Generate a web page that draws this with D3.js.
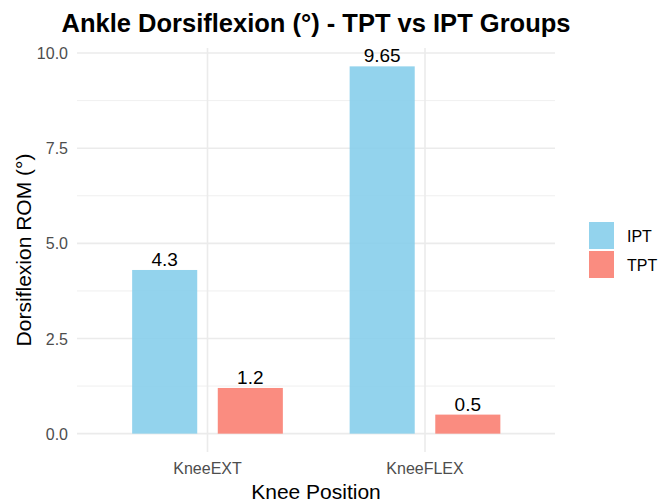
<!DOCTYPE html>
<html>
<head>
<meta charset="utf-8">
<script src="https://cdn.jsdelivr.net/npm/d3@7"></script>
<style>
  body { margin: 0; background: #fff; }
  svg { font-family: "Liberation Sans", Arial, sans-serif; }
</style>
</head>
<body>
<svg id="chart"></svg>
<script>
// data
var positions = ["KneeEXT", "KneeFLEX"]
var groups = ["IPT", "TPT"]
var iptValues = [4.3, 9.65]
var tptValues = [1.2, 0.5]
var yTicks = [0, 2.5, 5, 7.5, 10]
var yMinor = [1.25, 3.75, 6.25, 8.75]

var colors = { IPT: "#87CEEB", TPT: "#FA8072" }

var rows = []
positions.forEach(function (p, i) {
    rows.push({ pos: p, group: "IPT", value: iptValues[i] })
    rows.push({ pos: p, group: "TPT", value: tptValues[i] })
})

var dimensions = {
    width: 659,
    height: 502,
    margin: { top: 48, bottom: 50, left: 77, right: 104 }
}

var svg = d3.select("#chart")
    .attr("width", dimensions.width)
    .attr("height", dimensions.height)

var panelBottom = dimensions.height - dimensions.margin.bottom
var panelRight = dimensions.width - dimensions.margin.right

var xScale = d3.scaleBand()
    .domain(positions)
    .range([dimensions.margin.left, panelRight + 0.5])
    .paddingInner(0)
    .paddingOuter(0.1)

var groupScale = d3.scaleBand()
    .domain(groups)
    .range([0, xScale.bandwidth()])
    .paddingInner(0.24)
    .paddingOuter(0.39)

// 5% expansion around [0, 9.65]
var yScale = d3.scaleLinear()
    .domain([-0.4825, 10.1325])
    .range([panelBottom, dimensions.margin.top])

// grid
var grid = svg.append("g")
grid.selectAll(".minor")
    .data(yMinor)
    .enter()
    .append("line")
    .attr("x1", dimensions.margin.left)
    .attr("x2", panelRight)
    .attr("y1", d => yScale(d))
    .attr("y2", d => yScale(d))
    .attr("stroke", "#ebebeb")
    .attr("stroke-width", 0.8)

grid.selectAll(".major")
    .data(yTicks)
    .enter()
    .append("line")
    .attr("x1", dimensions.margin.left)
    .attr("x2", panelRight)
    .attr("y1", d => yScale(d))
    .attr("y2", d => yScale(d))
    .attr("stroke", "#ebebeb")
    .attr("stroke-width", 1.6)

grid.selectAll(".vmajor")
    .data(positions)
    .enter()
    .append("line")
    .attr("x1", d => xScale(d) + xScale.bandwidth() / 2)
    .attr("x2", d => xScale(d) + xScale.bandwidth() / 2)
    .attr("y1", dimensions.margin.top)
    .attr("y2", panelBottom)
    .attr("stroke", "#ebebeb")
    .attr("stroke-width", 1.6)

// bars
svg.append("g")
    .selectAll("rect")
    .data(rows)
    .enter()
    .append("rect")
    .attr("x", d => xScale(d.pos) + groupScale(d.group))
    .attr("y", d => yScale(d.value))
    .attr("width", groupScale.bandwidth())
    .attr("height", d => yScale(0) - yScale(d.value))
    .attr("fill", d => colors[d.group])
    .attr("fill-opacity", 0.9)

// value labels
svg.append("g")
    .selectAll("text")
    .data(rows)
    .enter()
    .append("text")
    .attr("x", d => xScale(d.pos) + groupScale(d.group) + groupScale.bandwidth() / 2)
    .attr("y", d => yScale(d.value) - 4)
    .attr("text-anchor", "middle")
    .style("font-size", "19px")
    .style("fill", "#000")
    .text(d => d.value)

// axes (no lines, just labels)
var yAxisGen = d3.axisLeft(yScale).tickValues(yTicks).tickFormat(d3.format(".1f")).tickSize(0).tickPadding(9)
var yAxis = svg.append("g")
    .attr("transform", `translate(${dimensions.margin.left},0)`)
    .call(yAxisGen)
yAxis.select(".domain").remove()
yAxis.selectAll("text").style("font-size", "16px").style("fill", "#4d4d4d").attr("dy", "0.35em")

var xAxisGen = d3.axisBottom(xScale).tickSize(0).tickPadding(10.5)
var xAxis = svg.append("g")
    .attr("transform", `translate(0,${panelBottom})`)
    .call(xAxisGen)
xAxis.select(".domain").remove()
xAxis.selectAll("text").style("font-size", "16px").style("fill", "#4d4d4d")

// titles
var panelCenter = (dimensions.margin.left + panelRight) / 2
svg.append("text")
    .attr("x", panelCenter)
    .attr("y", 32)
    .attr("text-anchor", "middle")
    .style("font-size", "25.5px")
    .style("font-weight", "bold")
    .text("Ankle Dorsiflexion (°) - TPT vs IPT Groups")

svg.append("text")
    .attr("x", panelCenter)
    .attr("y", 499)
    .attr("text-anchor", "middle")
    .style("font-size", "21px")
    .text("Knee Position")

svg.append("text")
    .attr("transform", "rotate(-90)")
    .attr("x", -(dimensions.margin.top + panelBottom) / 2)
    .attr("y", 31)
    .attr("text-anchor", "middle")
    .style("font-size", "21px")
    .text("Dorsiflexion ROM (°)")

// legend
var legend = svg.append("g")
    .attr("transform", "translate(589,222)")
var items = legend.selectAll("g")
    .data(groups)
    .enter()
    .append("g")
    .attr("transform", (d, i) => `translate(0,${i * 29})`)
items.append("rect")
    .attr("width", 25)
    .attr("height", 27)
    .attr("fill", d => colors[d])
    .attr("fill-opacity", 0.9)
items.append("text")
    .attr("x", 38)
    .attr("y", 14)
    .attr("dy", "0.35em")
    .style("font-size", "16px")
    .text(d => d)
</script>
</body>
</html>
